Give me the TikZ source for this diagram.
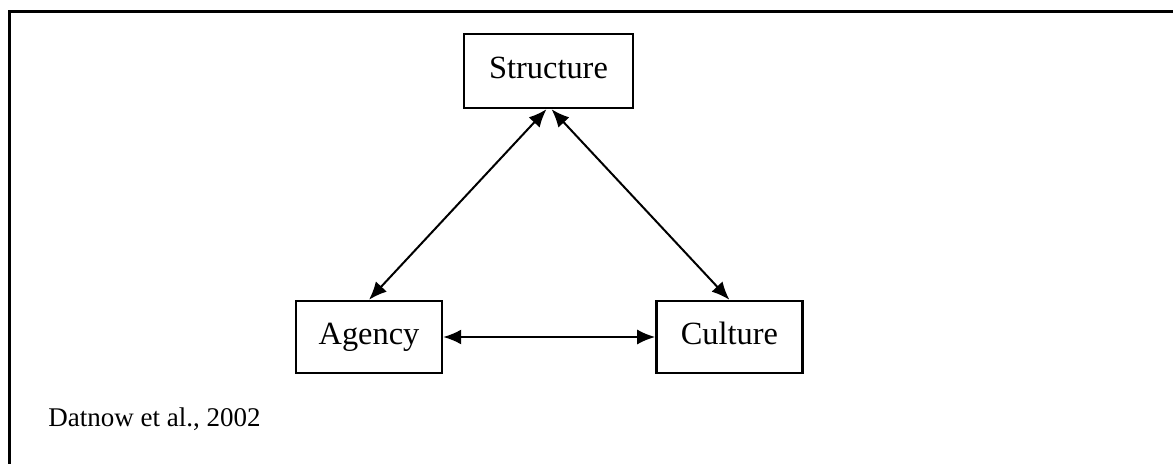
\documentclass[tikz,border=0pt]{standalone}
\usepackage{fontspec}
\setmainfont{Liberation Serif}
\usepackage{tikz}
\usetikzlibrary{arrows.meta,positioning}
\tikzstyle{arrow} = [line width=1pt,<->,>={Latex[length=9pt,width=7.5pt]}]
\tikzstyle{conceptbox} = [rectangle, minimum width=73pt, minimum height=36pt, text centered, text height=11pt, text depth=3.5pt, draw=black, line width=1.2pt, font=\fontsize{16.2}{19}\selectfont]
\begin{document}
\begin{tikzpicture}[x=0.5pt,y=-0.5pt]
\useasboundingbox (0,0) rectangle (1173,464);
% Frame
\clip (0,0) rectangle (1173,464);
\draw[line width=1.5pt] (9,12) rectangle (1200,500);

% Agency
\node[conceptbox] (agency) at (369,337) {Agency};

% Culture
\node[conceptbox, right=106pt of agency] (culture) {Culture};

% Structure
\node[conceptbox, minimum width=84.5pt, minimum height=37pt] (structure) at (548.5,71) {Structure};

% Source
\node[anchor=base west, inner sep=0pt, font=\fontsize{13.5}{16}\selectfont] (source) at (48,427) {Datnow et al., 2002};

\draw[arrow] ([xshift=-1pt]structure.south) -- (agency.north);
\draw[arrow] ([xshift=1.5pt]structure.south) -- (culture.north);
\draw[arrow] (agency) -- (culture);
\end{tikzpicture}
\end{document}
